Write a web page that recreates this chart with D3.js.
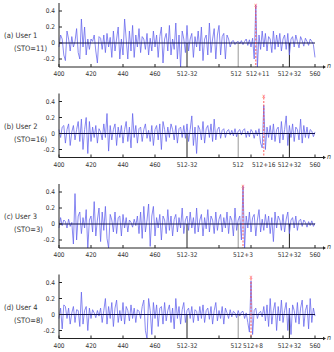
<!DOCTYPE html>
<html lang="en">
<head>
  <meta charset="UTF-8" />
  <title>STO per user</title>
  <script src="https://d3js.org/d3.v7.min.js"></script>
  <style>
    body { margin: 0; background: #fff; }
    svg { display: block; }
    text { font-family: 'DejaVu Sans Condensed', 'DejaVu Sans', sans-serif; font-stretch: condensed; fill: #333; }
    .tick-label { font-size: 6.5px; }
    .panel-label { font-size: 7.5px; }
  </style>
</head>
<body>
<svg width="334" height="352"></svg>
<script>
const panelLabels = ["(a) User 1", "(b) User 2", "(c) User 3", "(d) User 4"];
const stos = [11, 16, 3, 8];
const yTicks = [-0.2, 0, 0.2, 0.4];
const xTicks = [400, 420, 440, 460];
const minorTicks = [500, 520, 540, 560];
const markTicks = [480, 512, 544];
const markLabels = ["512-32", "512", "512+32"];
const nStart = 400;

// received signal, one value per n = 400..560
const user1 = [
  -0.05,0.1,0.05,-0.15,-0.22,0.15,0.05,-0.1,0.08,-0.05,0.02,0.18,-0.12,-0.2,0.3,-0.05,0.2,-0.15,0.05,-0.08,
  0.05,0.02,0.1,-0.1,-0.25,0.08,0.06,-0.08,0.1,-0.12,0.12,-0.05,0.07,-0.18,0.15,-0.1,0.05,0.2,-0.2,0.05,
  -0.15,0.3,0.05,-0.2,0.15,-0.1,0.22,-0.18,0.1,-0.05,0.18,-0.12,0.08,0.05,-0.08,0.12,-0.15,0.06,-0.1,0.15,
  -0.05,0.1,-0.18,0.08,0.2,-0.25,0.05,0.12,-0.1,0.22,-0.15,0.05,-0.08,0.25,-0.2,0.1,-0.3,0.15,0.05,-0.12,
  0.22,-0.1,0.05,0.12,-0.18,0.08,-0.05,0.15,-0.1,0.2,-0.22,0.05,0.1,-0.15,0.25,-0.12,0.05,0.18,-0.2,0.1,
  0.22,-0.15,0.08,0.12,-0.2,0.1,0.05,-0.05,0.02,0.03,-0.02,0.01,0.02,-0.01,0.03,-0.02,0.02,0.05,-0.03,0.04,
  -0.05,0.06,-0.2,0.47,-0.3,0.1,-0.08,0.15,-0.05,0.12,-0.1,0.08,0.05,-0.12,0.15,-0.08,0.1,-0.05,0.12,-0.1,
  0.05,0.1,-0.08,0.12,-0.15,0.05,0.08,-0.05,0.1,0.02,-0.06,0.08,0.03,-0.04,0.06,0.02,-0.03,0.05,0.02,-0.02,
  -0.18
];
const user2 = [
  0.05,-0.05,0.08,0.1,-0.12,0.05,0.12,-0.15,0.02,0.1,-0.08,0.05,0.15,-0.1,0.18,-0.2,0.05,0.2,-0.25,0.15,
  -0.1,0.08,-0.05,0.1,-0.12,0.06,0.02,-0.08,0.12,-0.05,0.25,-0.22,0.1,-0.08,0.05,0.12,-0.15,0.08,-0.05,0.1,
  -0.12,0.05,0.15,-0.1,0.08,-0.18,0.25,-0.05,0.1,-0.12,0.06,0.08,-0.1,0.05,0.12,-0.06,0.04,-0.1,0.1,-0.15,
  0.05,0.1,-0.08,0.12,-0.2,0.15,0.05,-0.1,0.08,-0.05,0.12,0.05,-0.08,0.1,-0.12,0.06,0.08,-0.05,0.1,-0.06,
  0.12,-0.1,0.05,0.22,-0.15,0.08,-0.25,0.1,0.05,-0.08,0.15,-0.12,0.06,0.1,-0.05,0.12,-0.1,0.18,-0.08,0.05,
  0.08,-0.06,0.04,0.06,-0.05,0.03,0.05,-0.02,0.04,-0.03,0.06,-0.04,0.03,0.05,-0.02,0.04,0.06,-0.05,0.03,-0.04,
  0.05,0.02,-0.06,0.04,-0.03,0.06,-0.12,-0.18,0.35,-0.2,0.08,-0.05,0.1,-0.08,0.12,-0.1,0.05,0.08,-0.12,0.15,
  -0.08,0.05,0.22,-0.15,0.1,-0.05,0.12,-0.1,0.08,0.05,-0.08,0.18,-0.12,0.1,-0.05,0.08,-0.06,0.05,0.03,-0.04,
  0.02
];
const user3 = [
  -0.05,0.08,-0.02,0.05,0.03,-0.05,0.06,-0.03,0.02,-0.25,0.38,-0.2,0.1,0.15,-0.12,0.08,-0.05,0.18,-0.3,0.05,
  0.1,-0.1,0.28,-0.15,0.05,0.2,-0.22,0.15,-0.08,0.22,-0.18,-0.3,0.12,0.05,-0.1,0.15,-0.12,0.08,0.1,-0.15,
  0.12,-0.05,0.08,-0.1,0.05,0.02,-0.04,0.06,-0.02,0.1,-0.12,0.15,-0.18,0.22,-0.1,0.05,0.25,-0.28,0.1,0.22,
  -0.15,0.08,-0.05,0.12,-0.2,0.1,0.05,-0.12,0.18,-0.08,0.1,-0.15,0.06,0.12,-0.1,0.08,-0.05,0.2,-0.12,0.05,
  0.1,-0.08,0.15,-0.05,0.08,-0.12,0.2,-0.1,0.05,0.12,-0.15,0.08,-0.06,0.18,-0.1,0.1,0.05,-0.12,0.15,-0.08,
  0.06,0.12,-0.1,0.08,-0.05,0.15,-0.12,0.1,0.05,-0.15,0.2,-0.08,0.05,0.1,-0.2,0.47,-0.3,0.1,-0.05,0.15,
  -0.1,0.08,0.12,-0.15,0.05,0.18,-0.1,0.06,-0.08,0.12,-0.05,0.1,-0.12,0.08,-0.22,0.15,-0.05,0.1,0.05,-0.08,
  0.12,-0.1,0.06,0.15,-0.12,0.05,0.08,-0.05,0.1,-0.08,0.04,0.06,-0.03,0.05,0.02,-0.04,0.03,-0.02,0.04,-0.03,
  0.01
];
const user4 = [
  -0.05,0.08,-0.18,0.12,0.1,-0.05,0.08,-0.12,0.02,0.1,-0.1,0.06,0.05,-0.15,0.28,-0.12,0.05,0.1,-0.2,0.08,
  -0.05,0.06,0.02,-0.04,0.05,-0.02,0.08,-0.1,0.05,0.2,-0.12,0.1,-0.05,0.15,-0.15,0.08,0.18,-0.1,0.05,-0.08,
  0.15,-0.12,0.1,0.05,-0.08,0.12,-0.05,0.08,-0.1,0.06,0.04,-0.05,0.1,0.18,-0.2,-0.3,0.2,0.05,-0.25,0.15,
  -0.05,0.12,-0.15,0.08,0.1,-0.12,0.15,-0.08,0.05,0.12,-0.1,0.08,-0.18,0.2,-0.05,0.1,-0.12,0.06,0.15,-0.1,
  0.05,0.08,-0.05,0.1,-0.1,0.06,0.04,-0.08,0.1,-0.05,0.12,-0.1,0.05,0.08,-0.06,0.1,-0.12,0.05,0.15,-0.08,
  0.05,-0.05,0.1,-0.12,0.08,0.02,-0.05,0.06,-0.03,0.04,0.02,-0.04,0.05,-0.02,0.03,0.04,-0.05,0.02,-0.1,-0.22,
  0.42,-0.25,0.05,0.08,-0.05,0.02,0.04,-0.03,0.1,-0.08,0.12,-0.15,0.2,-0.12,0.05,0.15,-0.2,0.1,-0.08,0.18,
  -0.1,0.05,0.15,-0.2,0.08,-0.25,0.12,0.05,-0.1,0.15,-0.12,0.08,0.18,-0.15,0.05,0.12,-0.18,0.2,-0.1,0.08,
  -0.02
];
const signals = [user1, user2, user3, user4];

const svg = d3.select("svg");
const x = d3.scaleLinear().domain([400, 560]).range([59, 315]);
const panelTop = [3, 93.5, 184, 274.5];
const panelH = 64;

signals.forEach((sig, p) => {
  const top = panelTop[p];
  const y = d3.scaleLinear().domain([-0.3, 0.5]).range([top + panelH, top]);
  const g = svg.append("g");
  const bottom = top + panelH;
  const y0 = y(0);
  const sto = stos[p];

  // vertical markers at 512-32, 512, 512+32
  markTicks.forEach(m => {
    g.append("line")
      .attr("x1", x(m)).attr("x2", x(m))
      .attr("y1", y0).attr("y2", bottom)
      .attr("stroke", m === 512 ? "#999" : "#222")
      .attr("stroke-width", 1);
  });

  // signal
  const line = d3.line()
    .x((d, i) => x(nStart + i))
    .y(d => y(d));
  g.append("path")
    .datum(sig)
    .attr("d", line)
    .attr("fill", "none")
    .attr("stroke", "#6262ec")
    .attr("stroke-width", 0.75);

  // zero line
  g.append("line")
    .attr("x1", x(400)).attr("x2", x(560))
    .attr("y1", y0).attr("y2", y0)
    .attr("stroke", "#10104a").attr("stroke-width", 1.1);

  // STO position
  const sx = x(512 + sto);
  g.append("line")
    .attr("x1", sx).attr("x2", sx)
    .attr("y1", top + 4).attr("y2", bottom)
    .attr("stroke", "#ff4a4a").attr("stroke-width", 0.9)
    .attr("stroke-dasharray", "2,1.5");
  g.append("text")
    .attr("x", sx).attr("y", top + 4)
    .attr("text-anchor", "middle")
    .style("font-size", "6px").style("fill", "#ff4a4a")
    .text("x");

  // y axis
  g.append("line")
    .attr("x1", x(400)).attr("x2", x(400))
    .attr("y1", top).attr("y2", bottom)
    .attr("stroke", "#222");
  yTicks.forEach(t => {
    g.append("line")
      .attr("x1", x(400)).attr("x2", x(400) + 3)
      .attr("y1", y(t)).attr("y2", y(t))
      .attr("stroke", "#222");
    g.append("text")
      .attr("class", "tick-label")
      .attr("x", x(400) - 4).attr("y", y(t))
      .attr("dy", "0.35em")
      .attr("text-anchor", "end")
      .text(t === 0 ? "0" : (t < 0 ? "-" : "") + d3.format(".1f")(Math.abs(t)));
  });

  // x axis with arrow
  g.append("line")
    .attr("x1", x(400)).attr("x2", 323)
    .attr("y1", bottom).attr("y2", bottom)
    .attr("stroke", "#222");
  g.append("path")
    .attr("d", `M323,${bottom - 1.8}L326,${bottom}L323,${bottom + 1.8}Z`)
    .attr("fill", "#222");
  g.append("text")
    .attr("x", 327).attr("y", bottom)
    .attr("dy", "0.2em")
    .style("font-size", "7px").style("font-style", "italic")
    .text("n");

  xTicks.concat(minorTicks).forEach(t => {
    g.append("line")
      .attr("x1", x(t)).attr("x2", x(t))
      .attr("y1", bottom).attr("y2", bottom - 3)
      .attr("stroke", "#222");
  });
  // the "512" label is dropped when the STO label sits right on top of it
  let labels = xTicks.map(t => [t, String(t)])
    .concat(markTicks.map((t, i) => [t, markLabels[i]]))
    .concat([[512 + sto, "512+" + sto], [560, "560"]]);
  if (sto < 6) labels = labels.filter(l => l[1] !== "512");
  labels.forEach(([t, s]) => {
    let lx = x(t);
    if (t === 512 && sto < 12) lx -= 2;
    if (t === 512 + sto && sto < 12 && sto >= 6) lx += 2;
    g.append("text")
      .attr("class", "tick-label")
      .attr("x", lx).attr("y", bottom + 9)
      .attr("text-anchor", "middle")
      .text(s);
  });

  // panel label
  g.append("text")
    .attr("class", "panel-label")
    .attr("x", 4).attr("y", y0 - 5)
    .text(panelLabels[p]);
  g.append("text")
    .attr("class", "panel-label")
    .attr("x", 14).attr("y", y0 + 8)
    .text("(STO=" + sto + ")");
});
</script>
</body>
</html>
